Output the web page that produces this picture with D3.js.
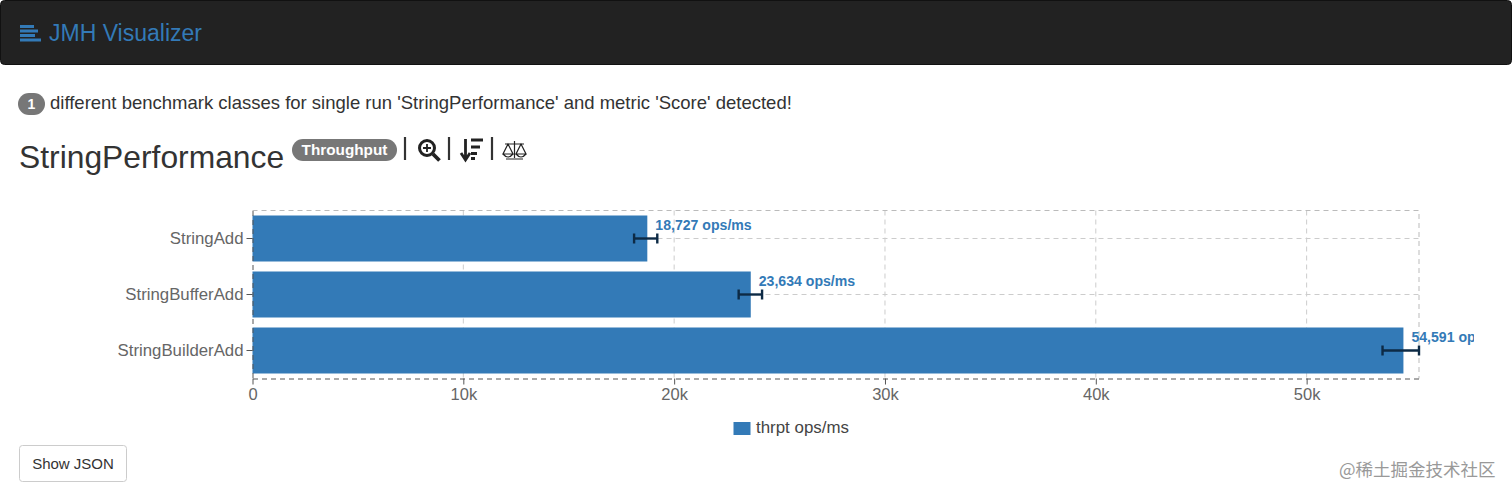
<!DOCTYPE html>
<html><head><meta charset="utf-8">
<script src="https://cdnjs.cloudflare.com/ajax/libs/d3/7.9.0/d3.min.js"></script>
<style>
html,body{margin:0;padding:0;background:#fff;overflow:hidden;width:1512px;height:497px}
svg{display:block;font-family:"Liberation Sans",Arial,sans-serif}
</style></head><body><svg id="c" width="1512" height="497"></svg>
<script>
const categories = ["StringAdd","StringBufferAdd","StringBuilderAdd"];
const scores = [18727,23634,54591];
const errLow = [18100,23060,53600];
const errHigh = [19200,24170,55330];
const xTicks = [0,10000,20000,30000,40000,50000];
const xMax = 55330;
const unit = "ops/ms";
const legendLabel = "thrpt ops/ms";
const blue = "#337ab7";

const svg = d3.select("#c");
// page chrome
svg.append("rect").attr("x",0.5).attr("y",0.5).attr("width",1511).attr("height",64).attr("rx",4).attr("fill","#222").attr("stroke","#111");
const brand = svg.append("g").attr("fill",blue);
[[20,25,14],[20,29.5,18],[20,34,15],[20,38.5,21]].forEach(d=>brand.append("rect").attr("x",d[0]).attr("y",d[1]).attr("width",d[2]).attr("height",3));
const T=(x,y,s,o={})=>svg.append("text").attr("x",x).attr("y",y).text(s)
  .attr("font-size",o.size||15).attr("fill",o.fill||"#333").attr("font-weight",o.weight||null).attr("text-anchor",o.anchor||"start").attr("font-family",o.family||null);
T(49,41,"JMH Visualizer",{size:23,fill:blue});
svg.append("rect").attr("x",18).attr("y",93).attr("width",27).attr("height",22).attr("rx",11).attr("fill","#777");
T(31.5,109,"1",{size:14,fill:"#fff",weight:"bold",anchor:"middle"});
T(50,108.5,"different benchmark classes for single run 'StringPerformance' and metric 'Score' detected!",{size:18.5});
T(19,168,"StringPerformance",{size:31.8});
svg.append("rect").attr("x",292).attr("y",139).attr("width",105).attr("height",22).attr("rx",11).attr("fill","#777");
T(344.5,155,"Throughput",{size:15.3,fill:"#fff",weight:"bold",anchor:"middle"});
const bars = svg.append("g").attr("stroke","#333").attr("stroke-width",2.2);
[405,449,492].forEach(v=>bars.append("line").attr("x1",v).attr("x2",v).attr("y1",137).attr("y2",160));
// zoom icon
const ic = svg.append("g").attr("fill","none").attr("stroke","#222");
ic.append("circle").attr("cx",427).attr("cy",148).attr("r",7.5).attr("stroke-width",3);
ic.append("path").attr("d","M433 154L439.5 160.5").attr("stroke-width",3.8);
ic.append("path").attr("d","M423 148H431M427 144V152").attr("stroke-width",1.8);
// sort icon
ic.append("path").attr("d","M465.5 139V158M461 153L465.5 160L470 153").attr("stroke-width",2.8);
ic.append("path").attr("d","M471 140H483M471 147H480M471 153.5H477M471 158.5H475").attr("stroke-width",3);
// balance icon
ic.append("path").attr("d","M514.5 141V158M506 159H523M505 144H524M508 144L503 154H513ZM521 144L516 154H526ZM503 154Q508 160 513 154M516 154Q521 160 526 154").attr("stroke-width",1.2);

// chart
const plot = {left:252.5,right:1419,top:210.5,bottom:378.5};
const x = d3.scaleLinear().domain([0,xMax]).range([plot.left,plot.right]);
const y = d3.scaleBand().domain(categories).range([plot.top,plot.bottom]).paddingInner(10/56).paddingOuter(5/56);
const mid = c => y(c)+y.bandwidth()/2;
const chart = svg.append("g");
const dash = "5,4";
chart.selectAll(".gx").data(xTicks.slice(1)).join("line").attr("x1",d=>x(d)).attr("x2",d=>x(d)).attr("y1",plot.top).attr("y2",plot.bottom).attr("stroke","#ccc").attr("stroke-dasharray",dash);
chart.selectAll(".gy").data(categories).join("line").attr("x1",plot.left).attr("x2",plot.right).attr("y1",d=>mid(d)).attr("y2",d=>mid(d)).attr("stroke","#ccc").attr("stroke-dasharray",dash);
chart.append("path").attr("d",`M${plot.left} ${plot.top}H${plot.right}V${plot.bottom}`).attr("fill","none").attr("stroke","#bbb").attr("stroke-dasharray",dash);
chart.selectAll(".bar").data(categories).join("rect").attr("x",plot.left).attr("y",d=>y(d)).attr("width",(d,i)=>x(scores[i])-plot.left).attr("height",y.bandwidth()).attr("fill",blue);

const xAxis = d3.axisBottom(x).tickValues(xTicks).tickSize(6).tickSizeOuter(0).tickPadding(4).tickFormat(d=>d===0?"0":(d/1000)+"k");
const yAxis = d3.axisLeft(y).tickSize(6).tickSizeOuter(0).tickPadding(3);
const gx = chart.append("g").attr("transform",`translate(0,${plot.bottom})`).call(xAxis);
const gy = chart.append("g").attr("transform",`translate(${plot.left},0)`).call(yAxis);
[gx,gy].forEach(g=>{
  g.select(".domain").attr("stroke","#555").attr("stroke-dasharray",dash);
  g.selectAll(".tick line").attr("stroke","#555");
  g.selectAll("text").attr("fill","#666").attr("font-size",16.5).attr("font-family",'"Liberation Sans",Arial,sans-serif');
});
gy.selectAll("text").attr("font-size",16.8);

// error bars
const eb = chart.append("g").attr("stroke","#0d2a45").attr("fill","none");
categories.forEach((c,i)=>{
  const a=x(errLow[i]),b=x(errHigh[i]),m=mid(c);
  eb.append("line").attr("x1",a).attr("x2",b).attr("y1",m).attr("y2",m).attr("stroke-width",2.4);
  [a,b].forEach(v=>eb.append("line").attr("x1",v).attr("x2",v).attr("y1",m-5).attr("y2",m+5).attr("stroke-width",2.4));
});
// value labels (clipped at the chart's outer edge)
svg.append("clipPath").attr("id","clip").append("rect").attr("x",0).attr("y",190).attr("width",1474).attr("height",220);
chart.append("g").attr("clip-path","url(#clip)").selectAll("text").data(categories).join("text")
  .attr("x",(d,i)=>x(scores[i])+8).attr("y",d=>y(d)+14.5)
  .text((d,i)=>d3.format(",")(scores[i])+" "+unit)
  .attr("fill",blue).attr("font-size",14.1).attr("font-weight","bold");

// legend
svg.append("rect").attr("x",733.5).attr("y",422).attr("width",17).attr("height",13).attr("fill",blue);
T(756,433,legendLabel,{size:16.9,fill:"#444"});

// button
svg.append("rect").attr("x",19.5).attr("y",445.5).attr("width",107).attr("height",36).attr("rx",3).attr("fill","#fff").attr("stroke","#ccc");
T(73,469,"Show JSON",{size:15,anchor:"middle"});
// watermark
T(1339,476,"@稀土掘金技术社区",{size:17.5,fill:"#999",family:'"Noto Sans CJK SC"'});
</script></body></html>
